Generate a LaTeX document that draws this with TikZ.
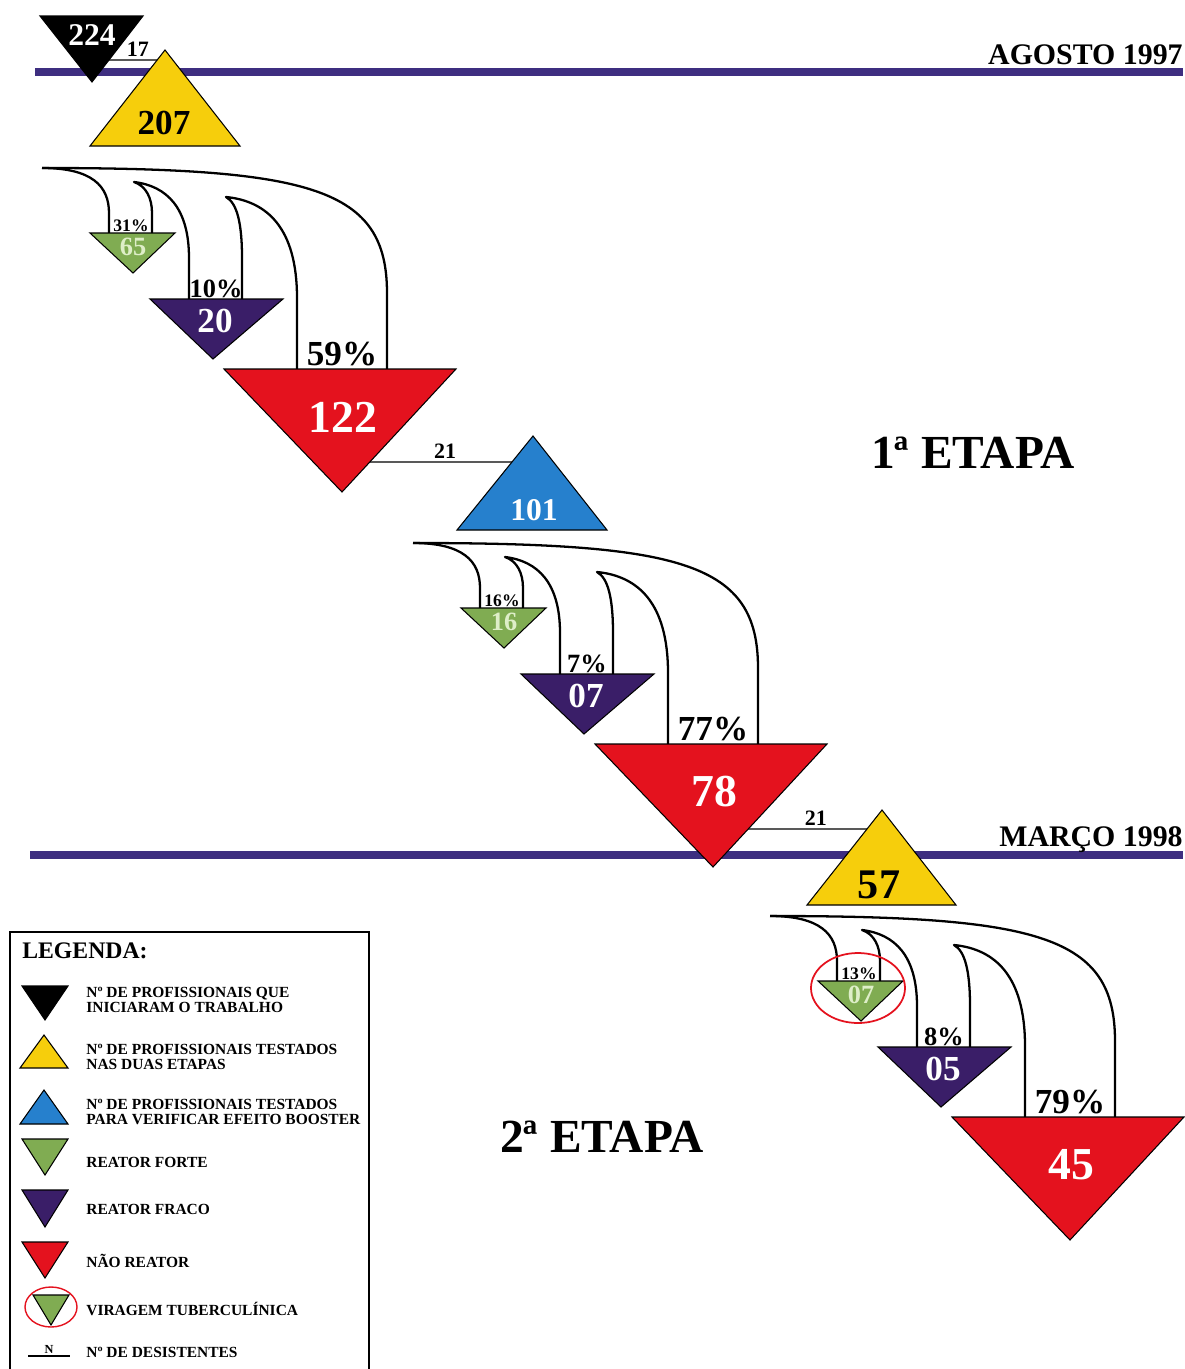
\documentclass[tikz,border=0pt]{standalone}
\usepackage{fontspec}
\setmainfont{Liberation Serif}
\usepackage{tikz}
\usetikzlibrary{calc}

\definecolor{faixa}{RGB}{62,46,128}
\definecolor{amarelo}{RGB}{246,206,12}
\definecolor{azul}{RGB}{38,128,205}
\definecolor{verde}{RGB}{128,172,82}
\definecolor{verdeclaro}{RGB}{222,238,200}
\definecolor{roxo}{RGB}{58,30,104}
\definecolor{vermelho}{RGB}{228,18,30}

\begin{document}
\begin{tikzpicture}[x=0.02cm,y=-0.02cm]
		\tikzstyle{Faixa}=[draw=faixa,line width=4pt]
		\tikzstyle{Tri}=[draw=black,line width=0.6pt]
		\tikzstyle{Seta}=[draw=black,line width=1.3pt,line join=round]
		\tikzstyle{Desist}=[draw=black,line width=0.8pt]
		\tikzstyle{Data}=[anchor=base east,inner sep=0pt,font=\bfseries\fontsize{17}{17}\selectfont]
		\tikzstyle{Etapa}=[font=\bfseries\fontsize{27}{27}\selectfont]
		\tikzstyle{Pct}=[anchor=base,inner sep=0pt]
		\tikzstyle{Num}=[inner sep=0pt]
		\tikzstyle{Desc}=[above,inner sep=1.5pt,font=\bfseries\fontsize{12.5}{12.5}\selectfont]
		\tikzstyle{Leg}=[anchor=west,align=left,inner sep=0pt,font=\bfseries\fontsize{8.8}{9}\selectfont]
		\useasboundingbox (0,0) rectangle (1185,1369);
		% faixas das datas
		\draw[Faixa] (35,72) -- (1183,72);
		\node[Data] (ago) at (1183,64) {AGOSTO 1997};
		\draw[Faixa] (30,855) -- (1183,855);
		\node[Data] (mar) at (1183,846) {MARÇO 1998};
		% inicio
		\filldraw[Tri,fill=black] (40,16) -- (143,16) coordinate (K2) -- (92,82) coordinate (K3) -- cycle;
		\node[Num,text=white,font=\bfseries\fontsize{18}{18}\selectfont] (N224) at (92,35) {224};
		\filldraw[Tri,fill=amarelo] (165,50) coordinate (Y1) -- (240,146) -- (90,146) coordinate (Y3) -- cycle;
		\node[Num,font=\bfseries\fontsize{20}{20}\selectfont] (N207) at (164,123) {207};
		\draw[Desist] ($(K2)!0.667!(K3)$) -- node[Desc,pos=0.6] (L17) {17} ($(Y1)!0.104!(Y3)$);
		% cascatas
		\foreach \gx/\gy/\i/\pa/\na/\pb/\nb/\pc/\nc in
		  {42/168/1/31/65/10/20/59/122,
		   413/543/2/16/16/7/07/77/78,
		   770/916/3/13/07/8/05/79/45}
		{
		\begin{scope}[shift={(\gx,\gy)}]
		\draw[Seta] (0,0) .. controls (270,0) and (345,20) .. (345,125) -- (345,201);
		\draw[Seta] (0,0) .. controls (50,0) and (67,18) .. (67,45) -- (67,65);
		\draw[Seta] (110,65) -- (110,45) .. controls (110,30) and (104,18) .. (92,14)
		   .. controls (125,18) and (147,40) .. (147,90) -- (147,131);
		\draw[Seta] (200,131) -- (200,90) .. controls (200,55) and (195,35) .. (184,29)
		   .. controls (225,33) and (255,60) .. (255,130) -- (255,201);
		\filldraw[Tri,fill=verde] (48,65) -- (133,65) -- (91,105) -- cycle;
		\filldraw[Tri,fill=roxo] (108,131) -- (241,131) -- (171,191) -- cycle;
		\filldraw[Tri,fill=vermelho] (182,201) -- (414,201) coordinate (rd\i) -- (300,324) coordinate (ra\i) -- cycle;
		\node[Pct,font=\bfseries\fontsize{10}{10}\selectfont] (pa\i) at (89,63) {\pa\%};
		\node[Num,text=verdeclaro,font=\bfseries\fontsize{15}{15}\selectfont] (na\i) at (91,79) {\na};
		\node[Pct,font=\bfseries\fontsize{15}{15}\selectfont] (pb\i) at (174,129) {\pb\%};
		\node[Num,text=white,font=\bfseries\fontsize{20}{20}\selectfont] (nb\i) at (173,153) {\nb};
		\node[Pct,font=\bfseries\fontsize{20}{20}\selectfont] (pc\i) at (300,197) {\pc\%};
		\node[Num,text=white,font=\bfseries\fontsize{26}{26}\selectfont] (nc\i) at (301,249) {\nc};
		\end{scope}
		}
		% reteste
		\filldraw[Tri,fill=azul] (533,436) coordinate (B1) -- (607,530) -- (457,530) coordinate (B3) -- cycle;
		\node[Num,text=white,font=\bfseries\fontsize{18}{18}\selectfont] (N101) at (534,510) {101};
		\draw[Desist] ($(rd1)!0.756!(ra1)$) -- node[Desc,pos=0.53] (L21a) {21} ($(B1)!0.277!(B3)$);
		\filldraw[Tri,fill=amarelo] (882,810) coordinate (Y4) -- (956,905) -- (807,905) coordinate (Y6) -- cycle;
		\node[Num,font=\bfseries\fontsize{24}{24}\selectfont] (N57) at (879,885) {57};
		\draw[Desist] ($(rd2)!0.691!(ra2)$) -- node[Desc,pos=0.57] (L21b) {21} ($(Y4)!0.2!(Y6)$);
		\draw[vermelho,line width=1pt] (858,988) ellipse [x radius=47,y radius=35];
		% etapas
		\node[Etapa] (E1) at (973,453) {1ª ETAPA};
		\node[Etapa] (E2) at (602,1137) {2ª ETAPA};
		% legenda
		\draw[line width=0.8pt] (10,1369) -- (10,932) -- (369,932) -- (369,1369);
		\node[anchor=base west,inner sep=0pt,font=\bfseries\fontsize{13.5}{13.5}\selectfont] (leg) at (22,958) {LEGENDA:};
		\filldraw[Tri,fill=black] (22,986) -- (68,986) -- (45,1020) -- cycle;
		\node[Leg] (l1) at (86,1000) {Nº DE PROFISSIONAIS QUE\\INICIARAM O TRABALHO};
		\filldraw[Tri,fill=amarelo] (20,1068) -- (68,1068) -- (44,1035) -- cycle;
		\node[Leg] (l2) at (86,1057) {Nº DE PROFISSIONAIS TESTADOS\\NAS DUAS ETAPAS};
		\filldraw[Tri,fill=azul] (20,1124) -- (68,1124) -- (44,1090) -- cycle;
		\node[Leg] (l3) at (86,1112) {Nº DE PROFISSIONAIS TESTADOS\\PARA VERIFICAR EFEITO BOOSTER};
		\filldraw[Tri,fill=verde] (22,1139) -- (68,1139) -- (45,1175) -- cycle;
		\node[Leg] (l4) at (86,1162) {REATOR FORTE};
		\filldraw[Tri,fill=roxo] (22,1190) -- (68,1190) -- (45,1227) -- cycle;
		\node[Leg] (l5) at (86,1209) {REATOR FRACO};
		\filldraw[Tri,fill=vermelho] (22,1242) -- (68,1242) -- (45,1278) -- cycle;
		\node[Leg] (l6) at (86,1261) {NÃO REATOR};
		\draw[vermelho,line width=0.8pt] (51,1307) ellipse [x radius=26,y radius=20];
		\filldraw[Tri,fill=verde] (33,1295) -- (69,1295) -- (51,1325) -- cycle;
		\node[Leg] (l7) at (86,1309) {VIRAGEM TUBERCULÍNICA};
		\coordinate (n1) at (28,1356);
		\coordinate (n2) at (70,1356);
		\draw[Desist] (n1) -- node[above,inner sep=1pt,font=\bfseries\fontsize{7}{7}\selectfont] (lN) {N} (n2);
		\node[Leg] (l8) at (86,1352) {Nº DE DESISTENTES};
	\end{tikzpicture}
\end{document}
